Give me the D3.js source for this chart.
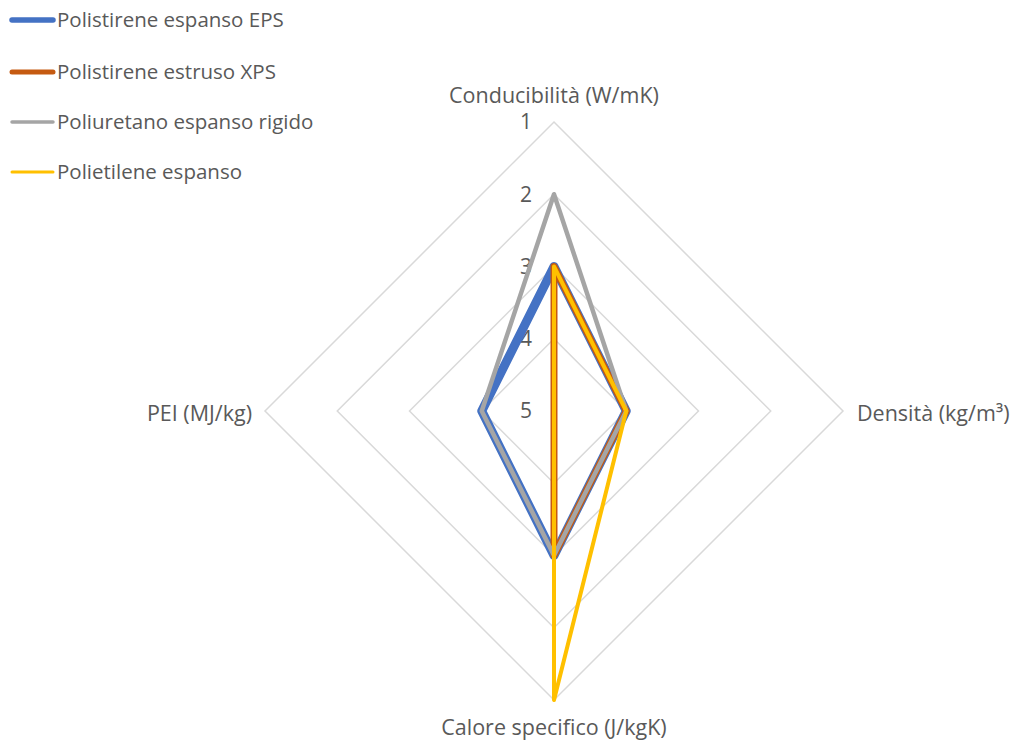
<!DOCTYPE html>
<html><head><meta charset="utf-8">
<script src="https://cdn.jsdelivr.net/npm/d3@7"></script>
<style>body{margin:0;background:#fff}svg{display:block}text{font-family:"Open Sans",sans-serif;fill:#595959}</style>
</head><body>
<script>
const axes = ["Conducibilità (W/mK)", "Densità (kg/m³)", "Calore specifico (J/kgK)", "PEI (MJ/kg)"];
const tickValues = [1, 2, 3, 4, 5];
const seriesNames = ["Polistirene espanso EPS", "Polistirene estruso XPS", "Poliuretano espanso rigido", "Polietilene espanso"];
const eps = [3, 4, 3, 4];
const xps = [3, 4, 3, 5];
const pur = [2, 4, 3, 4];
const pe  = [3, 4, 1, 5];
const seriesValues = [eps, xps, pur, pe];
const colors = ["#4472C4", "#C55A11", "#A5A5A5", "#FFC000"];
const widths = [9, 7, 4.5, 4];
const legendWidths = [5.5, 5, 3.5, 3];

const W = 1013, H = 742, cx = 554, cy = 411, R = 289;
const svg = d3.select("body").append("svg").attr("width", W).attr("height", H);
const r = d3.scaleLinear().domain([5, 1]).range([0, R]);
const ang = d3.scalePoint().domain(axes).range([0, 2 * Math.PI * 3 / 4]);
const pt = (a, v) => [cx + r(v) * Math.sin(ang(a)), cy - r(v) * Math.cos(ang(a))];

const g = svg.append("g");
tickValues.slice(0, 4).forEach(t => {
  g.append("polygon")
    .attr("points", axes.map(a => pt(a, t).join(",")).join(" "))
    .attr("fill", "none").attr("stroke", "#D9D9D9").attr("stroke-width", 1.5);
});
tickValues.forEach(t => {
  g.append("text").attr("x", cx - 22).attr("y", cy - r(t)).attr("dy", "0.35em")
    .attr("text-anchor", "end").attr("font-size", 21).text(t);
});
const lab = [
  {x: cx, y: 95, anchor: "middle"},
  {x: 857, y: 413, anchor: "start"},
  {x: cx, y: 727, anchor: "middle"},
  {x: 252, y: 413, anchor: "end"}
];
axes.forEach((a, i) => {
  g.append("text").attr("x", lab[i].x).attr("y", lab[i].y).attr("dy", "0.35em")
    .attr("text-anchor", lab[i].anchor).attr("font-size", 21.5).text(a);
});
const line = d3.lineRadial().angle((d, i) => ang(axes[i])).radius(d => r(d)).curve(d3.curveLinearClosed);
seriesValues.forEach((vals, i) => {
  g.append("path").attr("transform", `translate(${cx},${cy})`)
    .attr("d", line(vals)).attr("fill", "none")
    .attr("stroke", colors[i]).attr("stroke-width", widths[i])
    .attr("stroke-linejoin", "round");
});
const ly = [20, 72, 122, 172];
seriesNames.forEach((n, i) => {
  svg.append("line").attr("x1", 12).attr("x2", 53).attr("y1", ly[i]).attr("y2", ly[i])
    .attr("stroke", colors[i]).attr("stroke-width", legendWidths[i]).attr("stroke-linecap", "round");
  svg.append("text").attr("x", 57).attr("y", ly[i]).attr("dy", "0.35em")
    .attr("font-size", 20.5).text(n);
});
</script>
</body></html>
